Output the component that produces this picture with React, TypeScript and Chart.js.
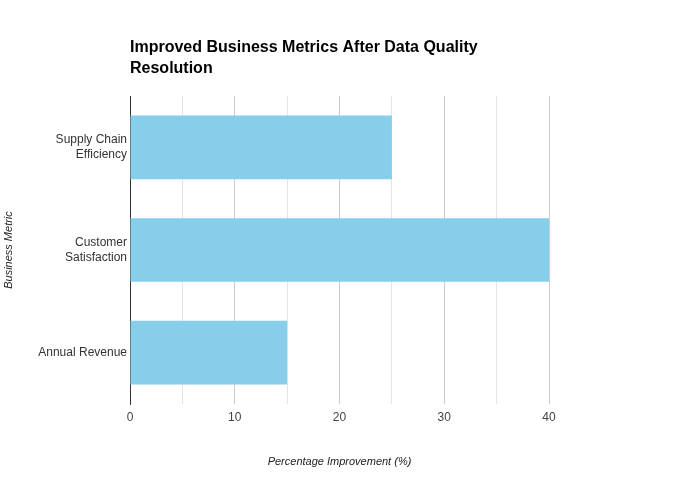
import React, { useEffect, useRef } from "react";
import { Chart, registerables } from "chart.js";

Chart.register(...registerables);

const titleLines = ["Improved Business Metrics After Data Quality", "Resolution"];
const categories: (string | string[])[] = [
  ["Supply Chain", "Efficiency"],
  ["Customer", "Satisfaction"],
  "Annual Revenue",
];
const improvements = [25, 40, 15];
const xMin = 0;
const xMax = 40;
const xStep = 5;
const xTitle = "Percentage Improvement (%)";
const yTitle = "Business Metric";

const FONT = "'Liberation Sans', Arial, Helvetica, sans-serif";

const titlePlugin = {
  id: "leftTitle",
  afterDraw(chart: any) {
    const ctx = chart.ctx;
    ctx.save();
    ctx.fillStyle = "#000";
    ctx.font = `bold 16px ${FONT}`;
    ctx.textBaseline = "alphabetic";
    ctx.textAlign = "left";
    const x = chart.chartArea.left;
    titleLines.forEach((line, i) => {
      ctx.fillText(line, x, 52 + i * 21);
    });
    ctx.restore();
  },
};

export default function App() {
  const ref = useRef<HTMLCanvasElement | null>(null);
  useEffect(() => {
    if (!ref.current) return;
    const chart = new Chart(ref.current, {
      type: "bar",
      data: {
        labels: categories,
        datasets: [
          {
            data: improvements,
            backgroundColor: "#87CEEB",
            borderWidth: 0,
            barPercentage: 0.62,
            categoryPercentage: 1,
          },
        ],
      },
      plugins: [titlePlugin],
      options: {
        indexAxis: "y",
        responsive: false,
        animation: false,
        layout: { padding: { top: 96, right: 131, left: 0, bottom: 0 } },
        plugins: {
          legend: { display: false },
          tooltip: { enabled: false },
          title: { display: false },
        },
        scales: {
          x: {
            min: xMin,
            max: xMax,
            afterFit: (s: any) => {
              s.height = 96;
            },
            ticks: {
              stepSize: xStep,
              padding: 6,
              color: "#444",
              font: { family: FONT, size: 12 },
              maxRotation: 0,
              callback: (v: any) => (Number(v) % 10 === 0 ? String(v) : ""),
            },
            grid: {
              drawTicks: false,
              color: (c: any) =>
                c.tick && c.tick.value % 10 === 0 ? "#cccccc" : "#e4e4e4",
            },
            border: { display: false },
            title: {
              display: true,
              text: xTitle,
              color: "#222",
              font: { family: FONT, size: 11, style: "italic" },
              padding: { top: 4, bottom: 31 },
            },
          },
          y: {
            afterFit: (s: any) => {
              s.width = 130;
            },
            ticks: {
              padding: 3,
              color: "#333",
              font: { family: FONT, size: 12 },
            },
            grid: { display: false, drawTicks: false },
            border: { display: true, color: "#333", width: 1 },
            title: {
              display: true,
              text: yTitle,
              color: "#222",
              font: { family: FONT, size: 11, style: "italic" },
              padding: { top: 2, bottom: 0 },
            },
          },
        },
      },
    });
    return () => chart.destroy();
  }, []);
  return (
    <div style={{ position: "absolute", left: 0, top: 0, width: 680, height: 500, background: "#fff" }}>
      <canvas ref={ref} width={680} height={500} style={{ width: 680, height: 500 }} />
    </div>
  );
}
